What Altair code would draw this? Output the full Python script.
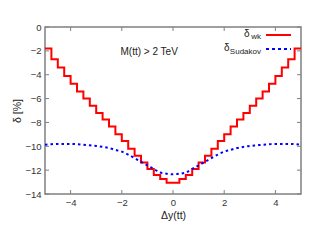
import altair as alt
import pandas as pd

# bin left edges of the stepped delta_wk curve (last entry = right end)
wk_x = [-5.0, -4.75, -4.5, -4.25, -4.0, -3.75, -3.5, -3.25, -3.0, -2.75,
        -2.5, -2.25, -2.0, -1.75, -1.5, -1.25, -1.0, -0.75, -0.5, -0.25,
        0.0, 0.25, 0.5, 0.75, 1.0, 1.25, 1.5, 1.75, 2.0, 2.25,
        2.5, 2.75, 3.0, 3.25, 3.5, 3.75, 4.0, 4.25, 4.5, 4.75, 5.0]
wk_y = [-1.8, -2.7, -3.4, -4.1, -4.75, -5.4, -6.0, -6.6, -7.2, -7.75,
        -8.35, -9.0, -9.55, -10.2, -10.8, -11.35, -11.9, -12.4, -12.75, -13.05,
        -13.05, -12.75, -12.4, -11.9, -11.35, -10.8, -10.2, -9.55, -9.0, -8.35,
        -7.75, -7.2, -6.6, -6.0, -5.4, -4.75, -4.1, -3.4, -2.7, -1.8, -1.8]

sud_x = [-5.0, -4.75, -4.5, -4.25, -4.0, -3.75, -3.5, -3.25, -3.0, -2.75,
         -2.5, -2.25, -2.0, -1.75, -1.5, -1.25, -1.0, -0.75, -0.5, -0.25,
         0.0, 0.25, 0.5, 0.75, 1.0, 1.25, 1.5, 1.75, 2.0, 2.25,
         2.5, 2.75, 3.0, 3.25, 3.5, 3.75, 4.0, 4.25, 4.5, 4.75, 5.0]
sud_y = [-9.87, -9.82, -9.8, -9.8, -9.8, -9.83, -9.87, -9.92, -9.97, -10.05,
         -10.15, -10.3, -10.45, -10.7, -11.0, -11.3, -11.6, -11.9, -12.2, -12.3,
         -12.35, -12.3, -12.2, -11.9, -11.6, -11.3, -11.0, -10.7, -10.45, -10.3,
         -10.15, -10.05, -9.97, -9.92, -9.87, -9.83, -9.8, -9.8, -9.8, -9.82, -9.87]

y_ticks = [-14, -12, -10, -8, -6, -4, -2, 0]
x_ticks = [-4, -2, 0, 2, 4]

W, H = 256, 167
FONT = "Liberation Sans"
GRAY = "#808080"

xs = alt.Scale(domain=[-5, 5], nice=False, zero=False)
ys = alt.Scale(domain=[-14, 0], nice=False, zero=False)
xax = alt.Axis(values=x_ticks, title="Δy(tt)", ticks=False, domain=False,
               grid=False, labelPadding=3, titlePadding=4)
yax = alt.Axis(values=y_ticks, title="δ [%]", ticks=False, domain=False,
               grid=False, labelPadding=4, titlePadding=2)

wk_df = pd.DataFrame({"x": wk_x, "y": wk_y})
sud_df = pd.DataFrame({"x": sud_x, "y": sud_y})
yt_df = pd.DataFrame({"y": y_ticks})
xt_df = pd.DataFrame({"x": x_ticks})

X = lambda: alt.X("x:Q", scale=xs, axis=xax)
Y = lambda: alt.Y("y:Q", scale=ys, axis=yax)

wk = alt.Chart(wk_df).mark_line(interpolate="step-after", color="#ff0000", strokeWidth=2).encode(
    x=X(), y=Y())

sud = alt.Chart(sud_df).mark_line(interpolate="monotone", color="#0000ff", strokeWidth=2,
                                  strokeDash=[2.5, 3]).encode(x=X(), y=Y())

tick_style = dict(color=GRAY, strokeWidth=1)
yl = alt.Chart(yt_df).mark_rule(**tick_style).encode(y=Y(), x=alt.value(0), x2=alt.value(4))
yr = alt.Chart(yt_df).mark_rule(**tick_style).encode(y=Y(), x=alt.value(W - 4), x2=alt.value(W))
xb = alt.Chart(xt_df).mark_rule(**tick_style).encode(x=X(), y=alt.value(H - 4), y2=alt.value(H))
xtp = alt.Chart(xt_df).mark_rule(**tick_style).encode(x=X(), y=alt.value(0), y2=alt.value(4))

ann = alt.Chart(pd.DataFrame({"x": [-2.05], "y": [-2.1], "t": ["M(tt) > 2 TeV"]})).mark_text(
    align="left", baseline="middle", font=FONT, fontSize=10, color="#222"
).encode(x=X(), y=Y(), text="t:N")

# legend
one = pd.DataFrame({"a": [0]})
leg_wk_line = alt.Chart(one).mark_rule(color="#ff0000", strokeWidth=2).encode(
    x=alt.value(221), x2=alt.value(246), y=alt.value(8))
leg_sud_line = alt.Chart(one).mark_rule(color="#0000ff", strokeWidth=2, strokeDash=[3, 3]).encode(
    x=alt.value(221), x2=alt.value(246), y=alt.value(22))
leg_d1 = alt.Chart(one).mark_text(text="δ", align="right", baseline="middle", font=FONT, fontSize=10,
                                  color="#222").encode(x=alt.value(204.5), y=alt.value(7))
leg_s1 = alt.Chart(one).mark_text(text="wk", align="right", baseline="middle", font=FONT, fontSize=8,
                                  color="#222").encode(x=alt.value(216), y=alt.value(10))
leg_d2 = alt.Chart(one).mark_text(text="δ", align="right", baseline="middle", font=FONT, fontSize=10,
                                  color="#222").encode(x=alt.value(184.5), y=alt.value(21))
leg_s2 = alt.Chart(one).mark_text(text="Sudakov", align="right", baseline="middle", font=FONT, fontSize=8,
                                  color="#222").encode(x=alt.value(216), y=alt.value(25))

chart = alt.layer(
    wk, sud, yl, yr, xb, xtp, ann,
    leg_wk_line, leg_sud_line, leg_d1, leg_s1, leg_d2, leg_s2
).properties(
    width=W, height=H,
    autosize=alt.AutoSizeParams(type="none"),
    padding={"left": 37, "top": 19, "right": 10, "bottom": 40},
).configure_view(
    stroke=GRAY, strokeWidth=1.5
).configure_axis(
    labelFont=FONT, labelFontSize=9.5, labelColor="#333", titleFont=FONT, titleFontSize=10.5,
    titleColor="#222", titleFontWeight="normal"
)

chart.save("out.html", embed_options={"renderer": "svg", "actions": False})
